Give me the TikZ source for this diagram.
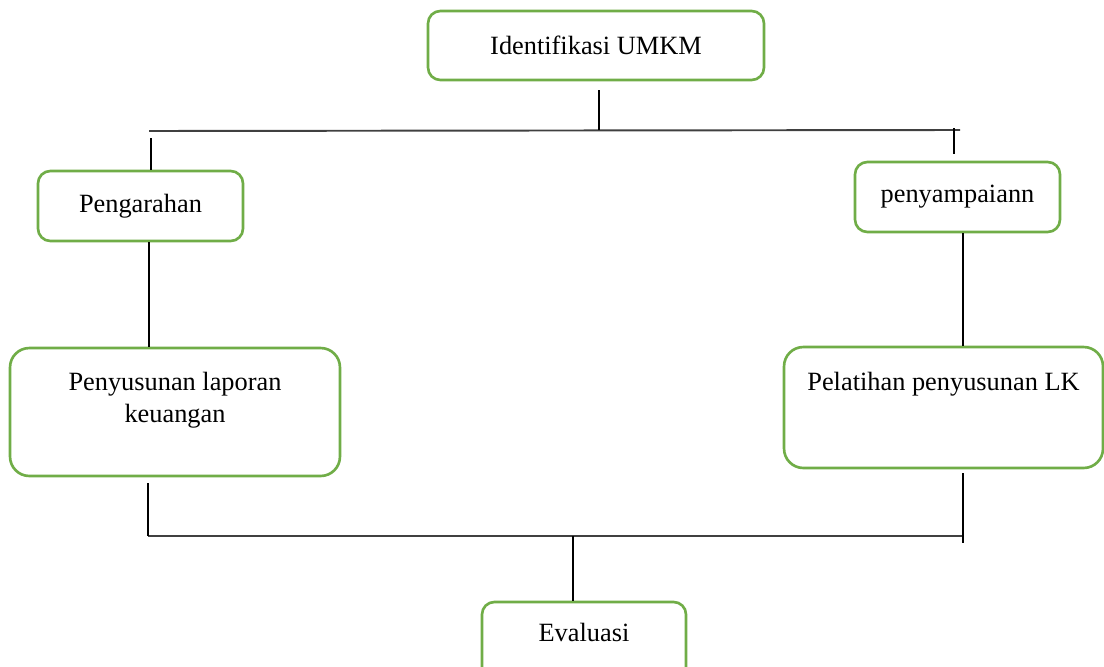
\documentclass[tikz,border=0pt]{standalone}
\usepackage{fontspec}
\setmainfont{Liberation Serif}
\usetikzlibrary{positioning}
\definecolor{boxgreen}{RGB}{112,173,71}
\tikzset{
  stagebox/.style={draw=boxgreen, line width=1.5pt, fill=white, align=center,
    font=\fontsize{15}{18}\selectfont, inner sep=0pt},
  vline/.style={black, line width=0.6pt},
  hline/.style={black!75, line width=1.1pt}
}

\begin{document}
\begin{tikzpicture}[x=0.02cm, y=-0.02cm]
\useasboundingbox (0,0) rectangle (1104,666);

%the boxes
\node [stagebox, rounded corners=7pt, minimum width=6.72cm, minimum height=1.38cm] (iden) at (596,45.5) {Identifikasi UMKM};
\node [stagebox, rounded corners=7pt, minimum width=4.1cm, minimum height=1.4cm] (peng) at (140.5,206) {Pengarahan};
\node [stagebox, rounded corners=7pt, minimum width=4.1cm, minimum height=1.4cm] (peny) at (957.5,197) {penyampaiann};
\node [stagebox, rounded corners=11pt, minimum width=6.6cm, minimum height=2.56cm] (susun) at (175,412) {Penyusunan laporan\\keuangan\\[-0.24cm]\strut};
\node [stagebox, rounded corners=11pt, minimum width=6.38cm, minimum height=2.42cm] (latih) at (943.5,407.5) {Pelatihan penyusunan LK\\[-0.2cm]\strut\\[-0.2cm]\strut};
\node [stagebox, rounded corners=7pt, minimum width=4.08cm, minimum height=1.84cm] (eval) at (584,648) {Evaluasi\\[-0.2cm]\strut};

%the upper branch
\coordinate (topL) at (149,131);
\coordinate (topR) at (960,130);
\coordinate (topM) at (599,130);
\coordinate (dropL) at (151,131);
\coordinate (dropR) at (954,128);
\draw [hline] (topL) -- (topR);
\draw [vline, shorten <=0.18cm] (iden.south -| topM) -- (topM);
\draw [vline, shorten <=0.14cm] (dropL) -- (dropL |- peng.north);
\draw [vline, shorten >=0.14cm] (dropR) -- (dropR |- peny.north);

%the two columns
\coordinate (linkL) at (149,0);
\coordinate (linkR) at (963,0);
\draw [vline] (peng.south -| linkL) -- (susun.north -| linkL);
\draw [vline] (peny.south -| linkR) -- (latih.north -| linkR);

%the lower branch
\coordinate (botL) at (148,536);
\coordinate (botR) at (963,536);
\coordinate (botM) at (573,536);
\draw [hline] (botL) -- (botR);
\draw [vline, shorten <=0.12cm] (susun.south -| botL) -- (botL);
\draw [vline, shorten <=0.08cm, shorten >=-0.14cm] (latih.south -| botR) -- (botR);
\draw [vline] (botM) -- (botM |- eval.north);
\end{tikzpicture}
\end{document}
